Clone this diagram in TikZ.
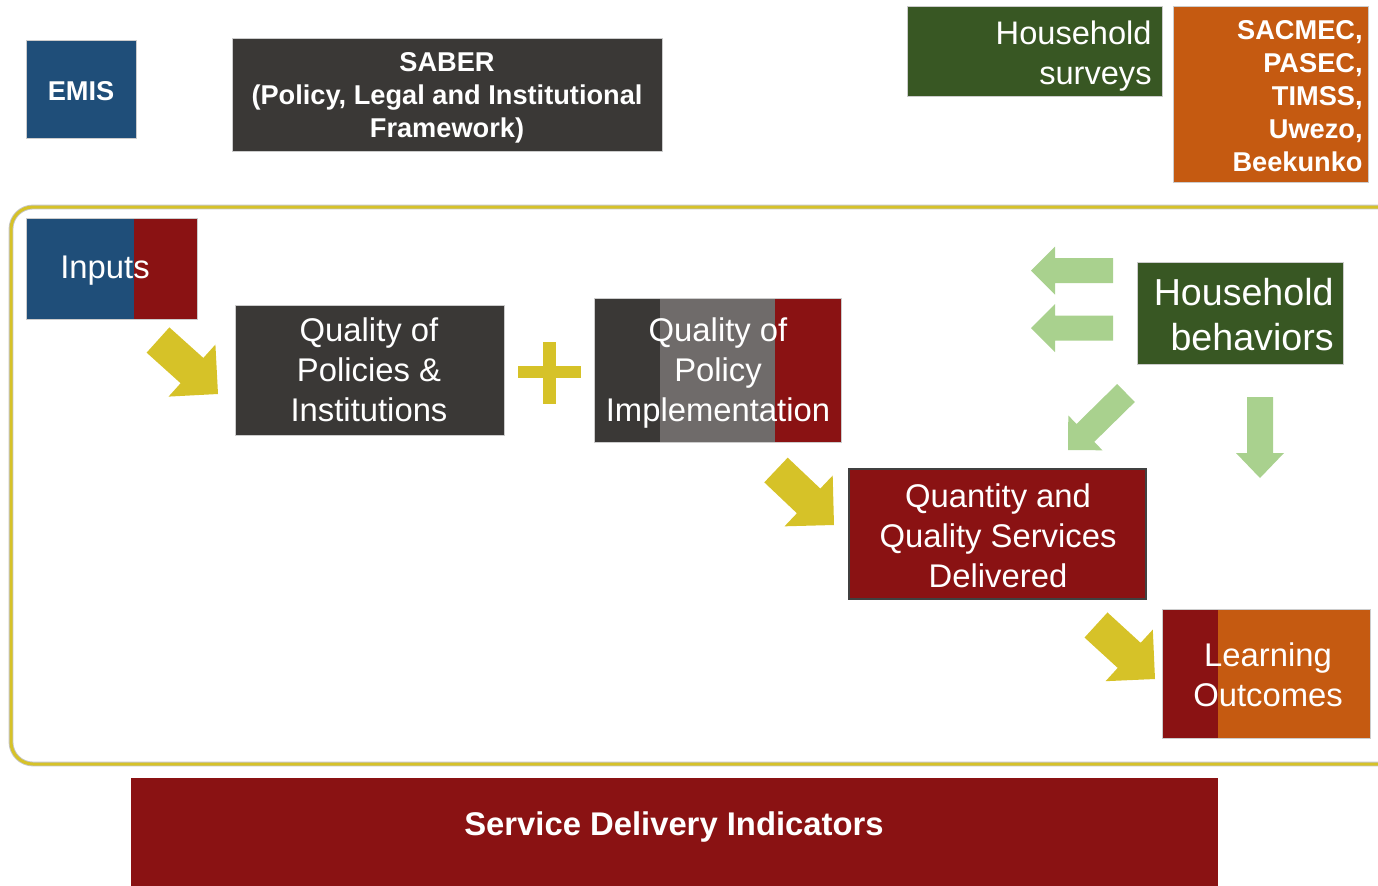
\documentclass[tikz,border=0pt]{standalone}
\usepackage{fontspec}
\setmainfont{Liberation Sans}
\usetikzlibrary{calc}
\definecolor{cblue}{HTML}{1F4E79}
\definecolor{cred}{HTML}{8A1213}
\definecolor{cdark}{HTML}{3A3836}
\definecolor{cgrey}{HTML}{6F6B6A}
\definecolor{cgreen}{HTML}{385723}
\definecolor{corange}{HTML}{C55A11}
\definecolor{cyellow}{HTML}{D6C228}
\definecolor{clgreen}{HTML}{A9D18E}
\tikzset{
  boxline/.style={draw=black!20, line width=0.4pt},
  txt/.style={text=white, inner sep=0pt, align=center, font=\fontsize{16.4}{20}\selectfont},
  bigtxt/.style={text=white, inner sep=0pt, align=right, font=\fontsize{18.8}{22.5}\selectfont},
  boldtxt/.style={text=white, inner sep=0pt, align=center, font=\fontsize{13.6}{16.5}\selectfont\bfseries},
}
% #1 colour, #2 start, #3 tip, #4 shaft half width, #5 head half width, #6 head length
\newcommand\blockarr[6]{%
  \coordinate (ba-A) at #2;
  \coordinate (ba-T) at #3;
  \coordinate (ba-H) at ($(ba-T)!#6!(ba-A)$);
  \fill[#1] ($(ba-A)!#4!90:(ba-T)$) -- ($(ba-H)!#4!90:(ba-T)$) -- ($(ba-H)!#5!90:(ba-T)$)
    -- (ba-T) -- ($(ba-H)!#5!-90:(ba-T)$) -- ($(ba-H)!#4!-90:(ba-T)$) -- ($(ba-A)!#4!-90:(ba-T)$) -- cycle;
}
\begin{document}
\begin{tikzpicture}[x=0.5pt,y=-0.5pt]
\useasboundingbox (0,0) rectangle (1378,885);
\clip (0,0) rectangle (1378,885);

% container
\draw[gray!45, line width=2.4pt, rounded corners=11pt] (11,207) rectangle (1400,764);
\draw[cyellow, line width=1.5pt, rounded corners=11pt] (11,207) rectangle (1400,764);

% top row
\fill[cblue, boxline] (26,40) rectangle (136,138);
\node[boldtxt] (emis) at (81,91) {EMIS};
\fill[cdark, boxline] (232,38) rectangle (662,151);
\node[boldtxt] (saber) at (447,98) {SABER\\(Policy, Legal and Institutional\\Framework)};
\fill[cgreen, boxline] (907,6) rectangle (1162,96);
\node[txt, align=right, anchor=east, font=\fontsize{16.3}{20}\selectfont] (hhs) at (1152,56) {Household\\surveys};
\fill[corange, boxline] (1173,6) rectangle (1368,182);
\node[boldtxt, align=right, anchor=east] (sacmec) at (1363,96) {SACMEC,\\PASEC,\\TIMSS,\\Uwezo,\\Beekunko};

% inputs
\fill[cblue] (26,218) rectangle (134,319);
\fill[cred] (134,218) rectangle (197,319);
\draw[boxline] (26,218) rectangle (197,319);
\node[txt] (inputs) at (105,271) {Inputs};

% quality of policies
\fill[cdark, boxline] (235,305) rectangle (504,435);
\node[txt] (qpol) at (369,370) {Quality of\\Policies \&\\Institutions};

% plus
\fill[cyellow] (518,366) rectangle (581,378);
\fill[cyellow] (543,342) rectangle (556,404);

% quality of policy implementation
\fill[cdark] (594,298) rectangle (660,442);
\fill[cgrey] (660,298) rectangle (775,442);
\fill[cred] (775,298) rectangle (841,442);
\draw[boxline] (594,298) rectangle (841,442);
\node[txt] (qimp) at (718,373) {Quality of\\Policy\\Implementation};

% quantity and quality
\fill[cred, draw=black!75, line width=0.9pt] (849,469) rectangle (1146,599);
\node[txt] (qsd) at (998,536) {Quantity and\\Quality Services\\Delivered};

% household behaviors
\fill[cgreen, boxline] (1137,262) rectangle (1343,364);
\node[bigtxt, anchor=east] (hhb) at (1334,315) {Household\\behaviors};

% learning outcomes
\fill[cred] (1162,609) rectangle (1218,738);
\fill[corange] (1218,609) rectangle (1370,738);
\draw[boxline] (1162,609) rectangle (1370,738);
\node[txt] (lo) at (1268,675) {Learning\\Outcomes};

% service delivery indicators
\fill[cred] (131,778) rectangle (1218,890);
\node[txt, font=\fontsize{16.4}{20}\selectfont\bfseries] (sdi) at (674,827) {Service Delivery Indicators};

% yellow block arrows
\blockarr{cyellow}{(158,340)}{(218,394)}{8.5pt}{17.5pt}{17.5pt}
\blockarr{cyellow}{(776,470)}{(834,525)}{8.5pt}{17.5pt}{17.5pt}
\blockarr{cyellow}{(1096,625)}{(1155,679)}{8.5pt}{17.5pt}{17.5pt}

% green block arrows
\blockarr{clgreen}{(1113,270.5)}{(1031,270.5)}{6.25pt}{12pt}{12pt}
\blockarr{clgreen}{(1113,328)}{(1031,328)}{6.25pt}{12pt}{12pt}
\blockarr{clgreen}{(1126,393)}{(1068,450)}{6.3pt}{12.2pt}{12.2pt}
\blockarr{clgreen}{(1260,397)}{(1260,478)}{6.5pt}{12pt}{12.5pt}
\end{tikzpicture}
\end{document}
